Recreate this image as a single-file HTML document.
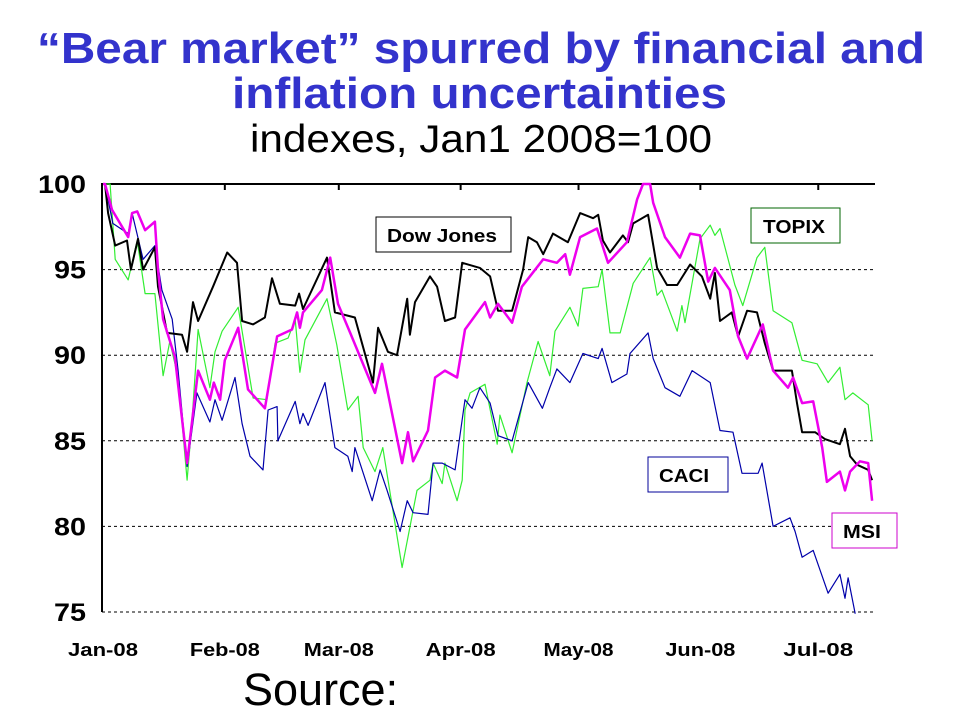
<!DOCTYPE html>
<html><head><meta charset="utf-8"><style>
body{margin:0;background:#fff;width:960px;height:720px;overflow:hidden;font-family:"Liberation Sans",sans-serif}
</style></head><body>
<svg width="960" height="720" viewBox="0 0 960 720" xmlns="http://www.w3.org/2000/svg">
<text x="37" y="63" font-size="44" font-weight="bold" fill="#3333cc" textLength="888" lengthAdjust="spacingAndGlyphs">“Bear market” spurred by financial and</text>
<text x="232" y="108" font-size="44" font-weight="bold" fill="#3333cc" textLength="495" lengthAdjust="spacingAndGlyphs">inflation uncertainties</text>
<text x="250" y="152" font-size="39" fill="#000" textLength="462" lengthAdjust="spacingAndGlyphs">indexes, Jan1 2008=100</text>
<text x="243" y="705" font-size="45" fill="#000">Source:</text>
<g id="grid"></g><g id="axes"></g><g id="series"></g>
<g><rect x="376" y="217" width="135" height="35" fill="#fff" stroke="#000"/><text x="387" y="242" font-size="18" font-weight="bold" textLength="110" lengthAdjust="spacingAndGlyphs">Dow Jones</text></g>
<g><rect x="751" y="208" width="89" height="35" fill="#fff" stroke="#006600"/><text x="763" y="233" font-size="18" font-weight="bold" textLength="62" lengthAdjust="spacingAndGlyphs">TOPIX</text></g>
<g><rect x="648" y="457" width="80" height="35" fill="#fff" stroke="#000099"/><text x="659" y="482" font-size="18" font-weight="bold" textLength="50" lengthAdjust="spacingAndGlyphs">CACI</text></g>
<g><rect x="832" y="513" width="65" height="35" fill="#fff" stroke="#cc00cc"/><text x="843" y="538" font-size="18" font-weight="bold" textLength="38" lengthAdjust="spacingAndGlyphs">MSI</text></g>
</svg>
<script>
const yTicks=[100,95,90,85,80,75];
const monthLabels=["Jan-08","Feb-08","Mar-08","Apr-08","May-08","Jun-08","Jul-08"];
const monthDays=[0,31,60,91,121,152,182];
const djDays=[0,0.5,1.3,3.1,6.1,7.1,8.9,10.2,13.2,14,16.3,20.1,21.4,22.9,24.2,28,31.6,34.1,35.4,38.2,41.2,43,45,48.9,49.9,50.9,57,59,64.1,65.9,68.7,70,72.5,74.8,77.4,78.1,79.4,83.2,85,87,89.6,91.4,95.9,98.5,100.5,104.1,106.9,108.2,110.4,112,114.5,118.3,121.4,124.7,126,127.2,129,132.3,133.6,134.9,138.7,141,143.5,146.1,149.4,152.4,154.5,155.7,157,160,161.6,163.9,166.4,168.4,170.5,175.3,176.6,177.9,181.2,183.7,187.5,188.8,190.1,191.9,194.7,195.7];
const djVals=[100,100,98.3,96.4,96.7,95,96.8,95,96.3,94,91.3,91.2,90.2,93.1,92,94,96,95.4,92,91.8,92.2,94.5,93,92.9,93.6,92.7,95.7,92.5,92.2,90.7,88.4,91.6,90.2,90,93.3,91.2,93.1,94.6,94,92,92.2,95.4,95.1,94.6,92.6,92.6,95,96.9,96.6,95.9,97.1,96.6,98.3,98,98.2,96.7,96,97,96.6,97.7,98.2,95.1,94.1,94.1,95.3,94.6,93.3,94.8,92,92.5,91.1,92.6,92.5,90.7,89.1,89.1,87.2,85.5,85.5,85.1,84.8,85.7,84.1,83.6,83.3,82.7];
const msiDays=[0,0.5,2.3,6.4,7.4,8.7,10.7,13.2,14,15.3,18.3,21.4,24.2,27.2,28.2,29.8,31,34.4,36.9,41.2,44.3,48.1,49.4,50.1,50.9,55.7,57.8,59.8,62.9,69.2,71,76.1,77.6,78.9,82.7,84.5,87,90.1,92.1,97.2,98.5,100.5,104.1,106.6,112,115.5,117.6,118.8,121.4,125.7,128.5,133.3,135.9,137.4,139.2,140,143,146.8,149.4,151.9,154,155.7,159.5,161.6,163.9,167.9,170.5,174.3,175.6,177.9,180.7,183,184.2,187.5,188.8,190.1,192.6,194.7,195.7];
const msiVals=[100,100,98.5,96.9,98.3,98.4,97.3,97.8,95,92.1,89.9,83.7,89.1,87.4,88.4,87.4,89.7,91.6,88,86.9,91.1,91.5,92.5,91.6,92.5,93.8,95.7,93,91.3,87.8,89.5,83.7,85.5,83.8,85.6,88.7,89.1,88.7,91.5,93.1,92.2,93,91.9,94,95.6,95.4,95.9,94.7,96.9,97.4,95.4,96.6,99.1,100,100,98.9,96.9,95.7,97.1,97,94.3,95.1,93.8,91.1,89.8,91.8,89.1,88.1,88.7,87.2,87.3,84.6,82.6,83.2,82.1,83.2,83.8,83.7,81.5];
const topixDays=[0,1.8,3.1,6.4,8.7,10.7,13.2,15.3,17,19.1,21.4,22.6,24.2,27.2,28.5,30.3,34.4,37.4,38.2,41.7,43.8,47.1,48.9,50.1,51.4,57,59.5,62.3,64.9,66.2,69.2,71.2,76.1,79.9,83.2,84,86.3,87,90.1,91.4,92.1,93.4,97.2,100.3,101,104.1,107.9,110.7,113.7,115,118.8,120.9,122.1,126,127,129,131.6,134.9,139.2,141,142.2,146.1,147.3,148.1,151.9,154.5,155.7,157,160.8,162.8,166.4,168.4,170.5,175.3,177.9,181.7,184.5,187.5,188.8,190.8,194.7,195.7];
const topixVals=[100,100,95.6,94.4,96.7,93.6,93.6,88.8,90.8,88.7,82.7,86,91.5,88.1,90.2,91.4,92.8,88.6,87.5,87.4,90.7,91,92.1,89,90.9,93.3,90.6,86.8,87.6,84.6,83.2,84.6,77.6,82.1,82.7,83.7,82.5,83.7,81.5,82.7,86.8,87.8,88.3,84.8,86.5,84.3,88.4,90.8,88.8,91.4,92.8,91.7,93.9,94,95,91.3,91.3,94.2,95.7,93.5,93.8,91.4,92.9,91.9,96.8,97.6,97,97.4,94.1,92.9,95.7,96.3,92.6,91.9,89.7,89.5,88.4,89.3,87.4,87.8,87.1,85];
const caciDays=[0,0.5,2.5,6.4,7.4,10.2,13.2,15,17.6,19.1,21.4,23.9,27.2,28.5,30.3,33.6,35.4,37.4,40.7,42,44.3,44.5,48.9,50.1,50.9,52.2,56.5,59,62.3,63.4,64.1,68.5,70.5,72.3,75.6,77.4,78.9,82.7,84,86.3,89.6,92.1,93.9,95.9,98.5,100.5,104.1,108.2,111.8,113.7,115.5,118.8,122.1,126,127,129.5,133.3,134.1,138.7,140,143,146.8,149.9,154.5,157,160.3,162.6,166.7,167.7,170.5,174.8,176.1,177.9,180.7,184.5,187.5,188.8,189.6,191.4];
const caciVals=[100,100,97.7,97.1,98.3,95.6,96.4,93.8,92.1,89.1,83.5,87.8,86.1,87.4,86.2,88.7,86,84.1,83.3,86.8,87,85,87.3,86,86.6,85.9,88.4,84.6,84.1,83.2,84.6,81.5,83.3,82.1,79.7,81.5,80.8,80.7,83.7,83.7,83.3,87.4,86.9,88.1,87.2,85.3,85,88.4,86.9,88.1,89.2,88.4,90.1,89.8,90.4,88.4,88.9,90.1,91.3,89.8,88.1,87.6,89.1,88.4,85.6,85.5,83.1,83.1,83.7,80,80.5,79.7,78.2,78.6,76.1,77.2,75.8,77,74.9];

const NS="http://www.w3.org/2000/svg";
const X0=103,PX_PER_DAY=3.93,Y0=184,PX_PER_UNIT=17.12;
function xs(d){return X0+d*PX_PER_DAY;}
function ys(v){return Y0+(100-v)*PX_PER_UNIT;}
function mk(tag,attrs,parent){const e=document.createElementNS(NS,tag);for(const k in attrs)e.setAttribute(k,attrs[k]);parent.appendChild(e);return e;}
const grid=document.getElementById('grid'),axes=document.getElementById('axes'),ser=document.getElementById('series');
yTicks.forEach(v=>{
  if(v<100){const l=mk('line',{x1:102,x2:875,y1:ys(v),y2:ys(v),stroke:'#000','stroke-width':1,'stroke-dasharray':'3,3'},grid);
  
  }
  const s=String(v);
  const t=mk('text',{x:86-(s.length===3?48:32),y:ys(v)+9,'font-size':25,'font-weight':'bold',textLength:(s.length===3?48:32),lengthAdjust:'spacingAndGlyphs'},axes);
  t.textContent=s;
  
  
});
const ax=mk('path',{d:'M102,612 L102,184 L875,184',fill:'none',stroke:'#000','stroke-width':2},axes);


monthLabels.forEach((m,i)=>{
  const x=xs(monthDays[i]);
  if(i>0){const tk=mk('line',{x1:x,x2:x,y1:184,y2:190,stroke:'#000','stroke-width':2},axes);
  
  }
  const t=mk('text',{x:x-35,y:656,'font-size':18,'font-weight':'bold',textLength:70,lengthAdjust:'spacingAndGlyphs'},axes);
  t.textContent=m;
  
  
});
function line(days,vals,color,w,name){
  const d=days.map((dd,i)=>(i?'L':'M')+xs(dd).toFixed(1)+','+ys(vals[i]).toFixed(1)).join(' ');
  const p=mk('path',{d:d,fill:'none',stroke:color,'stroke-width':w,'stroke-linejoin':'round'},ser);
  
  
}
line(topixDays,topixVals,'#33ee33',1.2,'series-topix');
line(caciDays,caciVals,'#0000aa',1.2,'series-caci');
line(djDays,djVals,'#000000',2,'series-dow-jones');
line(msiDays,msiVals,'#ee00ee',2.5,'series-msi');
</script>
</body></html>
